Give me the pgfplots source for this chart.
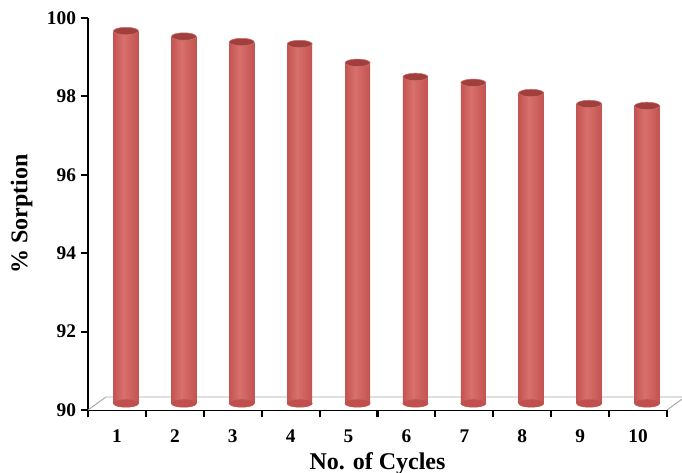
\documentclass[border=0pt]{standalone}
\usepackage{fontspec}
\setmainfont{Liberation Serif}
\usepackage{pgfplots}
\pgfplotsset{compat=1.18}
\definecolor{barM}{HTML}{C0504D}
\definecolor{barL}{HTML}{D8706B}
\definecolor{barD}{HTML}{8C3330}
\definecolor{barT}{HTML}{A13F3C}
\pgfdeclarehorizontalshading{cyl}{100bp}{color(0bp)=(barD); color(22bp)=(barM); color(45bp)=(barL); color(78bp)=(barM); color(100bp)=(barD)}
\pgfplotsset{
  cylbody/.style={ybar, bar width=18.8pt, bar shift=0pt, xshift=6.75pt, yshift=4.9pt, draw=none, shading=cyl},
}
\begin{document}
\begin{tikzpicture}
\useasboundingbox (-66pt,-47.25pt) rectangle (445.5pt,307.5pt);
\begin{axis}[
  at={(0,0)}, anchor=south west, scale only axis,
  width=434.25pt, height=294pt,
  xmin=0.5, xmax=10.5, ymin=90, ymax=100,
  ytick={90,92,...,100},
  xtick={1,...,10},
  minor xtick={0.5,1.5,...,10.5},
  axis lines=left,
  axis line style={-, line width=1.6pt, black},
  tick align=outside,
  major tick length=5.5pt, minor tick length=5.5pt,
  major y tick style={line width=1.6pt, black},
  major x tick style={draw=none},
  minor x tick style={line width=1.6pt, black},
  clip=false,
  /pgf/number format/assume math mode=true,
  tick label style={font=\fontsize{14.5}{16}\selectfont\bfseries},
  x tick label style={yshift=-6pt},
  label style={font=\fontsize{18}{20}\selectfont\bfseries},
  xlabel={No. of Cycles},
  ylabel={\% Sorption},
  xlabel style={yshift=-0.5pt},
  ylabel style={yshift=4pt},
]
% floor
\draw[gray!70, line width=0.7pt, fill=white]
  (axis cs:0.5,90) -- ([shift={(13.5pt,9.75pt)}]axis cs:0.5,90)
  -- ([shift={(13.5pt,9.75pt)}]axis cs:10.5,90) -- (axis cs:10.5,90);
% cylinder bottoms
\addplot[color=barM, only marks, mark=*, mark size=9.4pt, xshift=6.75pt, yshift=4.9pt,
  mark options={yscale=0.3, fill=barM, draw=barM}]
  coordinates {(1,90)(2,90)(3,90)(4,90)(5,90)(6,90)(7,90)(8,90)(9,90)(10,90)};
% cylinder bodies
\addplot[cylbody] coordinates {(1,99.50)};
\addplot[cylbody] coordinates {(2,99.36)};
\addplot[cylbody] coordinates {(3,99.22)};
\addplot[cylbody] coordinates {(4,99.17)};
\addplot[cylbody] coordinates {(5,98.69)};
\addplot[cylbody] coordinates {(6,98.33)};
\addplot[cylbody] coordinates {(7,98.18)};
\addplot[cylbody] coordinates {(8,97.92)};
\addplot[cylbody] coordinates {(9,97.64)};
\addplot[cylbody] coordinates {(10,97.59)};
% cylinder tops
\addplot[color=barT, only marks, mark=*, mark size=9.4pt, xshift=6.75pt, yshift=4.9pt,
  mark options={yscale=0.3, fill=barT, draw=barM!80!white, line width=0.4pt}]
  coordinates {(1,99.50)(2,99.36)(3,99.22)(4,99.17)(5,98.69)(6,98.33)(7,98.18)(8,97.92)(9,97.64)(10,97.59)};
\end{axis}
\end{tikzpicture}
\end{document}
